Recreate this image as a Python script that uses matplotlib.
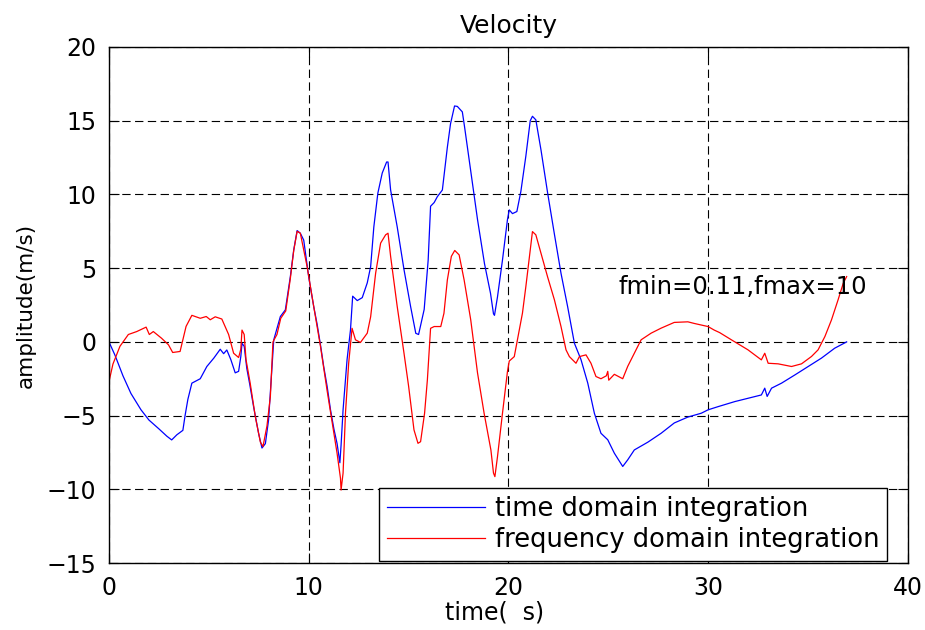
import matplotlib
matplotlib.use('Agg')
import matplotlib.pyplot as plt

# time domain integration (blue)
t_time = [0.0, 0.3, 0.7, 1.1, 1.6, 2.0, 2.5, 2.9, 3.14, 3.4, 3.7, 3.81, 3.95,
          4.15, 4.57, 4.9, 5.25, 5.57, 5.74, 5.9, 6.1, 6.32, 6.49, 6.6, 6.66,
          6.77, 6.9, 7.05, 7.24, 7.49, 7.66, 7.83, 7.99, 8.08, 8.16, 8.25,
          8.58, 8.83, 9.08, 9.25, 9.42, 9.58, 9.75, 10.0, 10.25, 10.42, 10.6,
          10.75, 10.92, 11.09, 11.26, 11.42, 11.56, 11.62, 11.72, 11.92,
          12.09, 12.2, 12.43, 12.68, 12.93, 13.1, 13.26, 13.46, 13.68, 13.9,
          13.97, 14.1, 14.43, 14.77, 15.1, 15.36, 15.5, 15.78, 15.98, 16.1,
          16.28, 16.44, 16.69, 16.94, 17.1, 17.3, 17.44, 17.69, 17.8, 18.1,
          18.45, 18.8, 19.1, 19.25, 19.3, 19.45, 19.7, 19.95, 20.04, 20.2,
          20.42, 20.62, 20.87, 21.09, 21.2, 21.37, 21.63, 21.96, 22.3, 22.63,
          22.96, 23.3, 23.63, 23.97, 24.3, 24.63, 24.97, 25.3, 25.72, 25.97,
          26.3, 26.98, 27.64, 28.3, 28.98, 29.65, 29.99, 30.5, 31.33, 32.0,
          32.66, 32.83, 32.95, 33.17, 33.67, 34.34, 35.0, 35.67, 36.33, 36.93]
v_time = [0.0, -0.9, -2.3, -3.5, -4.6, -5.3, -5.9, -6.4, -6.65, -6.3, -6.0,
          -5.0, -3.9, -2.8, -2.5, -1.67, -1.1, -0.5, -0.8, -0.55, -1.2, -2.1,
          -2.0, -1.0, -0.1, -0.3, -1.8, -2.9, -4.4, -6.2, -7.2, -6.9, -5.3,
          -3.4, -1.7, 0.14, 1.72, 2.17, 4.43, 6.24, 7.55, 7.37, 6.9, 4.4, 2.4,
          1.2, -0.3, -1.67, -3.0, -4.6, -5.9, -6.9, -8.2, -7.0, -4.6, -1.2,
          0.8, 3.1, 2.8, 3.0, 4.0, 5.1, 7.8, 10.08, 11.45, 12.2, 12.2, 10.3,
          7.8, 4.9, 2.4, 0.58, 0.5, 2.2, 5.55, 9.2, 9.45, 9.85, 10.3, 13.2,
          14.8, 16.0, 15.97, 15.6, 14.6, 11.67, 8.3, 5.3, 3.3, 1.9, 1.8, 3.05,
          5.55, 8.3, 8.95, 8.7, 8.84, 10.2, 12.6, 15.0, 15.3, 15.06, 13.0,
          10.1, 7.3, 4.65, 2.4, -0.09, -1.2, -2.8, -4.84, -6.2, -6.64, -7.55,
          -8.45, -8.0, -7.33, -6.8, -6.2, -5.5, -5.1, -4.84, -4.61, -4.39,
          -4.05, -3.82, -3.6, -3.14, -3.7, -3.14, -2.8, -2.24, -1.67, -1.1,
          -0.43, 0.0]

# frequency domain integration (red)
t_freq = [0.0, 0.2, 0.55, 0.97, 1.39, 1.86, 2.02, 2.22, 2.63, 2.98, 3.19, 3.56,
          3.7, 3.86, 4.15, 4.57, 4.87, 5.07, 5.32, 5.65, 5.99, 6.24, 6.49, 6.6,
          6.66, 6.77, 6.86, 7.07, 7.33, 7.58, 7.71, 7.91, 8.08, 8.21, 8.41,
          8.6, 8.85, 9.08, 9.25, 9.42, 9.58, 9.92, 10.25, 10.59, 10.92, 11.26,
          11.42, 11.59, 11.62, 11.72, 11.84, 12.0, 12.17, 12.34, 12.59, 12.93,
          13.1, 13.35, 13.6, 13.85, 13.97, 14.1, 14.43, 14.77, 15.0, 15.27,
          15.47, 15.6, 15.8, 15.94, 16.1, 16.28, 16.61, 16.77, 16.94, 17.14,
          17.31, 17.53, 17.78, 18.11, 18.45, 18.78, 19.12, 19.25, 19.32, 19.45,
          19.7, 19.95, 20.04, 20.29, 20.45, 20.7, 20.87, 21.04, 21.2, 21.37,
          21.63, 21.96, 22.3, 22.63, 22.88, 23.05, 23.38, 23.55, 23.88, 24.13,
          24.38, 24.63, 24.9, 24.97, 25.02, 25.3, 25.72, 25.97, 26.3, 26.64,
          27.14, 27.64, 28.3, 28.98, 29.3, 29.99, 30.3, 30.57, 31.16, 31.99,
          32.66, 32.83, 33.0, 33.5, 34.17, 34.67, 35.17, 35.5, 35.84, 36.17,
          36.5, 36.76, 36.93]
v_freq = [-2.7, -1.5, -0.3, 0.5, 0.7, 1.0, 0.5, 0.7, 0.25, -0.2, -0.72, -0.65,
          0.14, 1.05, 1.8, 1.6, 1.72, 1.5, 1.7, 1.55, 0.5, -0.77, -1.06, -0.5,
          0.8, 0.5, -1.2, -2.8, -5.1, -6.8, -7.1, -5.7, -3.7, 0.0, 0.5, 1.6,
          2.1, 4.3, 6.2, 7.5, 7.37, 5.1, 2.4, -0.32, -3.3, -6.2, -7.56, -9.25,
          -10.05, -8.9, -4.84, -1.45, 0.92, 0.14, -0.04, 0.59, 1.7, 4.66, 6.7,
          7.26, 7.37, 5.8, 2.4, -0.77, -3.0, -5.97, -6.88, -6.77, -4.84, -2.58,
          0.92, 1.04, 1.04, 1.94, 4.2, 5.8, 6.2, 5.9, 4.2, 1.5, -2.1, -4.84,
          -7.33, -8.9, -9.14, -7.79, -4.84, -2.0, -1.3, -1.0, 0.14, 1.95, 3.75,
          5.7, 7.48, 7.26, 6.0, 4.4, 2.85, 1.04, -0.54, -1.0, -1.45, -1.0,
          -0.88, -1.45, -2.35, -2.5, -2.3, -2.0, -2.6, -2.2, -2.5, -1.66,
          -0.77, 0.14, 0.59, 0.93, 1.32, 1.36, 1.25, 1.04, 0.8, 0.63, 0.14,
          -0.54, -1.22, -0.77, -1.45, -1.49, -1.67, -1.49, -0.99, -0.54, 0.36,
          1.49, 2.85, 3.98, 4.43]

x_ticks = [0, 10, 20, 30, 40]
y_ticks = [-15, -10, -5, 0, 5, 10, 15, 20]

plt.rcParams['font.family'] = 'DejaVu Sans'
fs = 17

fig = plt.figure(figsize=(9.25, 6.3), dpi=100)
ax = fig.add_axes([0.1178, 0.1063, 0.8638, 0.8191])

ax.plot(t_time, v_time, color='#0000ff', lw=0.9, label='time domain integration')
ax.plot(t_freq, v_freq, color='#ff0000', lw=0.9, label='frequency domain integration')

ax.set_xlim(0, 40)
ax.set_ylim(-15, 20)
ax.set_xticks(x_ticks)
ax.set_yticks(y_ticks)
ax.tick_params(direction='in', length=7, width=0.8, top=True, right=True,
               labelsize=fs, pad=9)
ax.grid(True, color='black', linestyle=(0, (7.5, 4)), lw=0.8)
for sp in ax.spines.values():
    sp.set_linewidth(1.0)

ax.set_title('Velocity', fontsize=18, pad=10)
ax.set_xlabel('time(  s)', fontsize=fs)
ax.xaxis.set_label_coords(0.483, -0.072)
ax.set_ylabel('amplitude(m/s)', fontsize=15.5, labelpad=8)

ax.text(25.5, 3.7, 'fmin=0.11,fmax=10', fontsize=17.5, ha='left', va='center')

leg = ax.legend(loc='lower right', bbox_to_anchor=(0.974, 0.004),
                borderaxespad=0, fontsize=18.5, handlelength=3.8,
                handletextpad=0.4, labelspacing=0.2, borderpad=0.3,
                fancybox=False, framealpha=1)
leg.get_frame().set_edgecolor('black')
leg.get_frame().set_linewidth(1.0)

fig.savefig('out.png', dpi=100, facecolor='white')
